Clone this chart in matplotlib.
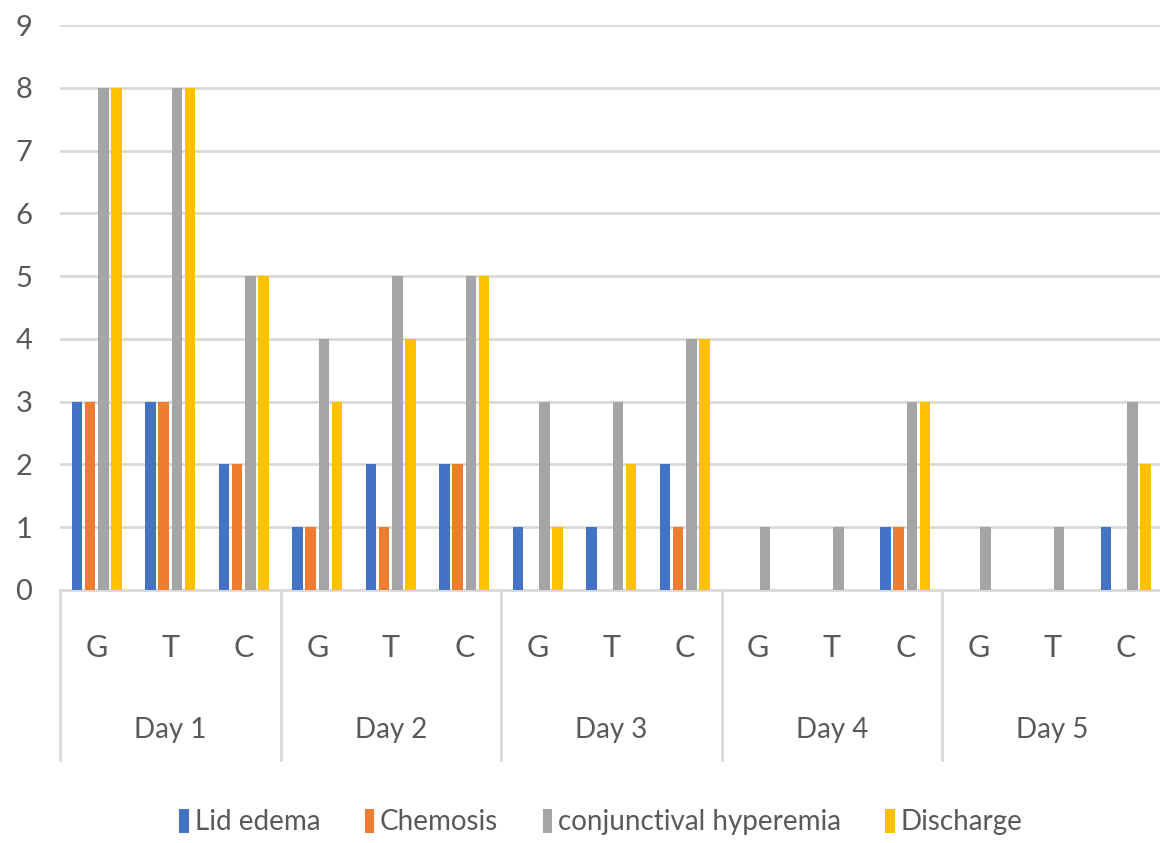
import numpy as np
import matplotlib
matplotlib.use("Agg")
import matplotlib.pyplot as plt
import matplotlib.transforms as mtransforms
from matplotlib.patches import Patch

plt.rcParams['font.family'] = ['Lato', 'DejaVu Sans']

# data
days = ["Day 1", "Day 2", "Day 3", "Day 4", "Day 5"]
groups = ["G", "T", "C"]
lid_edema = [3, 3, 2, 1, 2, 2, 1, 1, 2, 0, 0, 1, 0, 0, 1]
chemosis = [3, 3, 2, 1, 1, 2, 0, 0, 1, 0, 0, 1, 0, 0, 0]
conj_hyperemia = [8, 8, 5, 4, 5, 5, 3, 3, 4, 1, 1, 3, 1, 1, 3]
discharge = [8, 8, 5, 3, 4, 5, 1, 2, 4, 0, 0, 3, 0, 0, 2]

series = [
    ("Lid edema", lid_edema, "#4472C4"),
    ("Chemosis", chemosis, "#ED7D31"),
    ("conjunctival hyperemia", conj_hyperemia, "#A5A5A5"),
    ("Discharge", discharge, "#FFC000"),
]

txt = "#595959"
line_c = "#D9D9D9"

fig = plt.figure(figsize=(11.6, 8.43), dpi=100)
ax = fig.add_axes([60 / 1160, 1 - 590 / 843, 1102.5 / 1160, 565 / 843])

x = np.arange(len(days) * len(groups))
w = 0.145
step = 0.18
for i, (name, vals, col) in enumerate(series):
    ax.bar(x + (i - 1.5) * step, vals, width=w, color=col, zorder=3, label=name)

ax.set_xlim(-0.5, len(x) - 0.5)
ax.set_ylim(0, 9)
ax.set_yticks(range(0, 10))
ax.grid(axis='y', color=line_c, linewidth=2, zorder=0)

for s in ["top", "right", "left"]:
    ax.spines[s].set_visible(False)
ax.spines["bottom"].set_color(line_c)
ax.spines["bottom"].set_linewidth(2)

ax.tick_params(axis='y', length=0, pad=20, labelsize=21, labelcolor=txt)
ax.set_xticks(x)
ax.set_xticklabels(groups * len(days))
ax.tick_params(axis='x', length=0, pad=32, labelsize=22, labelcolor=txt)

# two-level category axis
trans = mtransforms.blended_transform_factory(ax.transData, ax.transAxes)
for k in range(len(days) + 1):
    xs = k * 3 - 0.5
    ax.plot([xs, xs], [0, -170 / 565], transform=trans, color=line_c,
            linewidth=2, clip_on=False)
for k, d in enumerate(days):
    ax.text(k * 3 + 1, -140 / 565, d, transform=trans, ha='center', va='center',
            fontsize=20, color=txt)

handles = [Patch(facecolor=c, label=n) for n, v, c in series]
fig.legend(handles=handles, loc='center', bbox_to_anchor=(0.518, 1 - 822 / 843),
           ncol=4, frameon=False, fontsize=20, labelcolor=txt,
           handlelength=0.35, handleheight=1.0, handletextpad=0.2,
           columnspacing=1.6)

fig.savefig("out.png", dpi=100)
